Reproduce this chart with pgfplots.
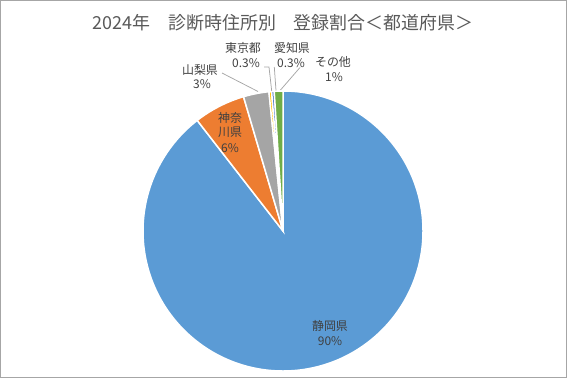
\documentclass[border=0pt]{standalone}
\usepackage{pgfplots}
\usepackage{pgfplotstable}
\pgfplotsset{compat=1.18}
\usepackage{fontspec}
\setmainfont{Noto Sans CJK JP}
\definecolor{c1}{HTML}{5B9BD5}
\definecolor{c2}{HTML}{ED7D31}
\definecolor{c3}{HTML}{A5A5A5}
\definecolor{c4}{HTML}{FFC000}
\definecolor{c5}{HTML}{4472C4}
\definecolor{c6}{HTML}{70AD47}
\definecolor{txt}{HTML}{404040}
\definecolor{ttl}{HTML}{595959}
\definecolor{lead}{HTML}{A6A6A6}
\pgfplotstableread[col sep=comma]{
name,value,color
静岡県,89.5,c1
神奈川県,5.95,c2
山梨県,2.95,c3
東京都,0.3,c4
愛知県,0.3,c5
その他,1.0,c6
}\piedata
\begin{document}
\begin{tikzpicture}
\def\piecmds{}
\def\a{90}
\pgfplotsforeachungrouped \i in {0,...,5}{%
  \pgfplotstablegetelem{\i}{value}\of\piedata
  \pgfmathsetmacro\b{\a-3.6*\pgfplotsretval}%
  \pgfplotstablegetelem{\i}{color}\of\piedata
  \edef\piecmds{\unexpanded\expandafter{\piecmds}\noexpand\fill[\pgfplotsretval,draw=white,line width=1.5bp] (axis cs:283,147) -- ++(\a:140bp) arc[start angle=\a,end angle=\b,radius=140bp] -- cycle;}%
  \let\a\b
}
\begin{axis}[hide axis, x=1bp, y=1bp, xmin=0, xmax=567, ymin=0, ymax=378,
  clip=false, anchor=origin, at={(0,0)}]
\draw[gray!70, line width=1bp] (axis cs:0.5,0.5) rectangle (axis cs:566.5,377.5);
\piecmds
\node[ttl, font=\fontsize{18}{20}\selectfont] at (axis cs:283,355) {2024年　診断時住所別　登録割合＜都道府県＞};
\begin{scope}[every node/.style={txt, font=\fontsize{12}{14}\selectfont, inner sep=0pt}]
\node at (axis cs:330,52) {静岡県};
\node at (axis cs:330,37) {90\%};
\node at (axis cs:230,260) {神奈};
\node at (axis cs:230,246) {川県};
\node at (axis cs:230,230) {6\%};
\node at (axis cs:200,308) {山梨県};
\node at (axis cs:202,294) {3\%};
\node at (axis cs:243,330) {東京都};
\node at (axis cs:246,315) {0.3\%};
\node at (axis cs:292,330) {愛知県};
\node at (axis cs:291,315) {0.3\%};
\node at (axis cs:333,316) {その他};
\node at (axis cs:334,301) {1\%};
\end{scope}
\draw[lead, line width=0.75bp] (axis cs:222,305) -- (axis cs:258,286.5);
\draw[lead, line width=0.75bp] (axis cs:264,311) -- (axis cs:269,311) -- (axis cs:271.7,287);
\draw[lead, line width=0.75bp] (axis cs:274.3,311) -- (axis cs:276,287.5);
\draw[lead, line width=0.75bp] (axis cs:300,310.5) -- (axis cs:280.5,288);
\end{axis}
\end{tikzpicture}
\end{document}
